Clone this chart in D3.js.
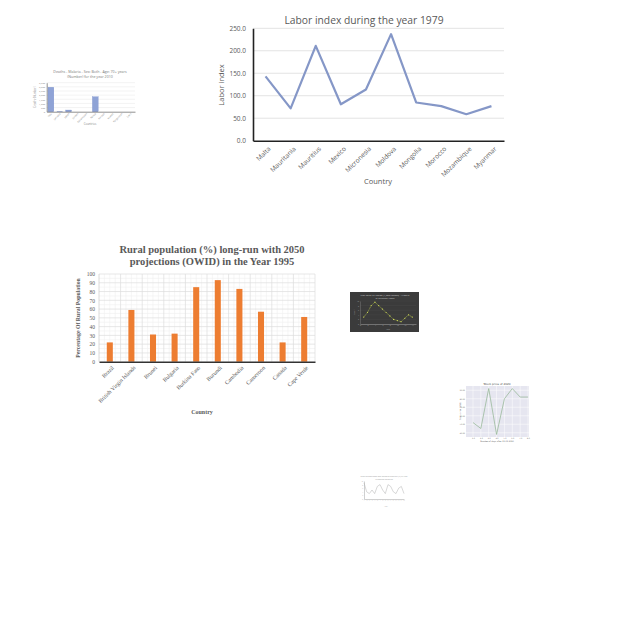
<!DOCTYPE html>
<html><head><meta charset="utf-8">
<script src="https://cdn.jsdelivr.net/npm/d3@7"></script>
<style>html,body{margin:0;padding:0;background:#fff;}svg{display:block;}</style>
</head><body>
<svg id="c" width="640" height="640"></svg>
<script>
// ---------- DATA ----------
const laborCountries = ["Malta","Mauritania","Mauritius","Mexico","Micronesia","Moldova","Mongolia","Morocco","Mozambique","Myanmar"];
const laborValues = [143, 72, 211, 81, 114, 237, 85, 77, 59, 77];
const laborTicks = [0, 50, 100, 150, 200, 250];

const ruralCountries = ["Brazil","British Virgin Islands","Brunei","Bulgaria","Burkina Faso","Burundi","Cambodia","Cameroon","Canada","Cape Verde"];
const ruralValues = [22, 59, 31, 32, 85, 93, 83, 57, 22, 51];
const ruralTicks = [0,10,20,30,40,50,60,70,80,90,100];

const deathsCategories = ["Italy","Jamaica","Japan","Jordan","Kazakhstan","Kenya","Kiribati","Kuwait","Kyrgyzstan","Laos"];
const deathsValues = [2950, 50, 200, 0, 0, 1800, 0, 0, 0, 0];
const deathsTicks = [0,500,1000,1500,2000,2500,3000,3500];

const darkX = [1,2,3,4,5,6,7,8,9,10,11,12,13,14];
const darkValues = [3, 5, 8, 9.5, 8, 6.5, 5, 3.5, 2, 1.5, 1, 2.5, 4, 3];
const darkTicks = [0,2,4,6,8,10];

const stockX = [1,2,3,4,5,6,7,8];
const stockValues = [52, 45, 92, 38, 80, 92, 82, 82];
const stockTicks = [40,50,60,70,80,90];

const tinyX = [1,2,3,4,5,6,7,8,9,10,11,12,13,14,15,16];
const tinyValues = [9, 4, 3, 5, 3, 7, 8, 5, 3, 8, 7, 4, 3, 6, 7, 3];
const tinyTicks = [0,2,4,6,8,10];

const svg = d3.select("#c");

// ---------- LABOR LINE CHART ----------
(function(){
  const g = svg.append("g");
  const x = d3.scaleBand().domain(laborCountries).range([253, 504]);
  const y = d3.scaleLinear().domain([0, 250]).range([140.7, 28.3]);
  const font = "'Open Sans', sans-serif";
  g.append("text").attr("x", 364).attr("y", 24).attr("text-anchor","middle")
    .attr("font-family", font).attr("font-size", 10.3).attr("fill","#595959")
    .text("Labor index during the year 1979");
  g.selectAll("line.grid").data(laborTicks.slice(1)).join("line")
    .attr("x1", 253).attr("x2", 504).attr("y1", d=>y(d)).attr("y2", d=>y(d))
    .attr("stroke", "#e3e3e3").attr("stroke-width", 1);
  const ya = g.append("g").attr("transform","translate(253,0)")
    .call(d3.axisLeft(y).tickValues(laborTicks).tickFormat(d3.format(".1f")).tickSize(0).tickPadding(7));
  ya.select(".domain").attr("stroke","#222").attr("stroke-width",1.6);
  ya.selectAll("text").attr("font-family", font).attr("font-size", 6.5).attr("fill","#595959");
  const xa = g.append("g").attr("transform","translate(0,140.7)")
    .call(d3.axisBottom(x).tickSize(0));
  xa.select(".domain").attr("stroke","#222").attr("stroke-width",1.6);
  xa.selectAll("text").attr("font-family", font).attr("font-size", 6.5).attr("fill","#595959")
    .attr("text-anchor","end").attr("x",0).attr("y",0).attr("dy","0.35em")
    .attr("transform","translate(4,7) rotate(-45)");
  g.append("path").datum(laborValues)
    .attr("fill","none").attr("stroke","#8597c7").attr("stroke-width",2.2).attr("stroke-linejoin","round")
    .attr("d", d3.line().x((d,i)=>x(laborCountries[i]) + x.bandwidth()/2).y(d=>y(d)));
  g.append("text").attr("transform","translate(224,85) rotate(-90)").attr("text-anchor","middle")
    .attr("font-family", font).attr("font-size", 7.5).attr("fill","#595959").text("Labor index");
  g.append("text").attr("x", 378).attr("y", 184).attr("text-anchor","middle")
    .attr("font-family", font).attr("font-size", 7.5).attr("fill","#595959").text("Country");
})();

// ---------- RURAL BAR CHART ----------
(function(){
  const g = svg.append("g");
  const font = "'Liberation Serif', 'Times New Roman', serif";
  const x = d3.scaleBand().domain(ruralCountries).range([99, 315]).paddingInner(0.72).paddingOuter(0.36);
  const xb = d3.scaleBand().domain(ruralCountries).range([99, 315]);
  const y = d3.scaleLinear().domain([0, 100]).range([361.7, 274]);
  g.append("text").attr("x", 212).attr("y", 253).attr("text-anchor","middle")
    .attr("font-family", font).attr("font-weight","bold").attr("font-size", 10.5).attr("fill","#595959")
    .text("Rural population (%) long-run with 2050");
  g.append("text").attr("x", 212).attr("y", 264.5).attr("text-anchor","middle")
    .attr("font-family", font).attr("font-weight","bold").attr("font-size", 10.5).attr("fill","#595959")
    .text("projections (OWID) in the Year 1995");
  const minorY = d3.range(5, 100, 10);
  g.selectAll("line.mh").data(minorY).join("line")
    .attr("x1",99).attr("x2",315).attr("y1",d=>y(d)).attr("y2",d=>y(d)).attr("stroke","#f0f0f0").attr("stroke-width",0.6);
  const minorX = [];
  ruralCountries.forEach(c=>{ for(let k=1;k<4;k++) minorX.push(xb(c)+xb.bandwidth()*k/4); });
  g.selectAll("line.mv").data(minorX).join("line")
    .attr("y1",274).attr("y2",361.7).attr("x1",d=>d).attr("x2",d=>d).attr("stroke","#f0f0f0").attr("stroke-width",0.6);
  g.selectAll("line.gh").data(ruralTicks.slice(1)).join("line")
    .attr("x1",99).attr("x2",315).attr("y1",d=>y(d)).attr("y2",d=>y(d)).attr("stroke","#dcdcdc").attr("stroke-width",0.7);
  g.selectAll("line.gv").data(ruralCountries.slice(1).concat(["__end"])).join("line")
    .attr("y1",274).attr("y2",361.7)
    .attr("x1",d=> d==="__end" ? 315 : xb(d)).attr("x2",d=> d==="__end" ? 315 : xb(d))
    .attr("stroke","#dcdcdc").attr("stroke-width",0.7);
  g.append("line").attr("x1",99).attr("x2",99).attr("y1",274).attr("y2",361.7).attr("stroke","#d0d0d0").attr("stroke-width",0.8);
  const ya = g.append("g").attr("transform","translate(99,0)")
    .call(d3.axisLeft(y).tickValues(ruralTicks).tickSize(0).tickPadding(4));
  ya.select(".domain").remove();
  ya.selectAll("text").attr("font-family", font).attr("font-size", 5.5).attr("fill","#595959");
  g.selectAll("rect.bar").data(ruralValues).join("rect")
    .attr("x",(d,i)=>x(ruralCountries[i])).attr("width",x.bandwidth())
    .attr("y",d=>y(d)).attr("height",d=>y(0)-y(d)).attr("fill","#ed7d31");
  const xa = g.append("g").attr("transform","translate(0,361.7)")
    .call(d3.axisBottom(xb).tickSize(0));
  xa.select(".domain").attr("stroke","#333").attr("stroke-width",1.4);
  xa.selectAll("text").attr("font-family", font).attr("font-size", 5.8).attr("fill","#595959")
    .attr("text-anchor","end").attr("x",0).attr("y",0).attr("dy","0.35em")
    .attr("transform","translate(3,5) rotate(-45)");
  g.append("text").attr("transform","translate(80,318) rotate(-90)").attr("text-anchor","middle")
    .attr("font-family", font).attr("font-weight","bold").attr("font-size", 5.8).attr("fill","#595959")
    .text("Percentage Of Rural Population");
  g.append("text").attr("x", 202).attr("y", 414).attr("text-anchor","middle")
    .attr("font-family", font).attr("font-weight","bold").attr("font-size", 6).attr("fill","#595959").text("Country");
})();

// ---------- DEATHS SMALL BAR CHART ----------
(function(){
  const g = svg.append("g");
  const font = "'Open Sans', sans-serif";
  const x = d3.scaleBand().domain(deathsCategories).range([46.7, 135]).paddingInner(0.35).paddingOuter(0.15);
  const xb = d3.scaleBand().domain(deathsCategories).range([46.7, 135]);
  const y = d3.scaleLinear().domain([0, 3500]).range([111.7, 82.7]);
  g.append("text").attr("x", 90).attr("y", 72.5).attr("text-anchor","middle")
    .attr("font-family", font).attr("font-size", 3.6).attr("fill","#7a7a7a")
    .text("Deaths - Malaria - Sex: Both - Age: 70+ years");
  g.append("text").attr("x", 90).attr("y", 77.5).attr("text-anchor","middle")
    .attr("font-family", font).attr("font-size", 3.6).attr("fill","#7a7a7a")
    .text("(Number) for the year 2010");
  g.selectAll("line.gh").data(deathsTicks.slice(1)).join("line")
    .attr("x1",46.7).attr("x2",135).attr("y1",d=>y(d)).attr("y2",d=>y(d)).attr("stroke","#e6e6e6").attr("stroke-width",0.5);
  const ya = g.append("g").attr("transform","translate(46.7,0)")
    .call(d3.axisLeft(y).tickValues(deathsTicks).tickSize(0).tickPadding(1.5));
  ya.select(".domain").attr("stroke","#444").attr("stroke-width",0.6);
  ya.selectAll("text").attr("font-family", font).attr("font-size", 2.4).attr("fill","#888");
  g.selectAll("rect.bar").data(deathsValues).join("rect")
    .attr("x",(d,i)=>x(deathsCategories[i])).attr("width",x.bandwidth())
    .attr("y",d=>y(d)).attr("height",d=>y(0)-y(d)).attr("fill","#8fa3d6").attr("stroke","#6f86c6").attr("stroke-width",0.3);
  const xa = g.append("g").attr("transform","translate(0,111.7)")
    .call(d3.axisBottom(xb).tickSize(0).tickPadding(1));
  xa.select(".domain").attr("stroke","#444").attr("stroke-width",0.6);
  xa.selectAll("text").attr("font-family", font).attr("font-size", 2.4).attr("fill","#888")
    .attr("text-anchor","end").attr("x",0).attr("y",0).attr("dy","0.5em")
    .attr("transform","translate(0,1.5) rotate(-45)");
  g.append("text").attr("transform","translate(36,97) rotate(-90)").attr("text-anchor","middle")
    .attr("font-family", font).attr("font-size", 2.6).attr("fill","#888").text("Deaths (Number)");
  g.append("text").attr("x", 90).attr("y", 125).attr("text-anchor","middle")
    .attr("font-family", font).attr("font-size", 2.8).attr("fill","#888").text("Countries");
})();

// ---------- DARK LINE CHART ----------
(function(){
  const g = svg.append("g");
  const font = "'Open Sans', sans-serif";
  g.append("rect").attr("x",350).attr("y",292).attr("width",69).attr("height",40).attr("fill","#3b3b3b");
  const x = d3.scaleLinear().domain([0, 15]).range([360, 416]);
  const y = d3.scaleLinear().domain([0, 10]).range([324, 301]);
  g.append("text").attr("x", 385).attr("y", 296).attr("text-anchor","middle")
    .attr("font-family", font).attr("font-size", 2.4).attr("fill","#cfcfcf")
    .text("Fish catch by region (1,000 tonnes) - Atlantic");
  g.append("text").attr("x", 385).attr("y", 299).attr("text-anchor","middle")
    .attr("font-family", font).attr("font-size", 2.4).attr("fill","#cfcfcf").text("in different years");
  g.selectAll("line.gh").data(darkTicks.slice(1)).join("line")
    .attr("x1",360).attr("x2",416).attr("y1",d=>y(d)).attr("y2",d=>y(d)).attr("stroke","#4a4a4a").attr("stroke-width",0.4);
  const ya = g.append("g").attr("transform","translate(360,0)")
    .call(d3.axisLeft(y).tickValues(darkTicks).tickSize(0).tickPadding(1));
  ya.select(".domain").attr("stroke","#888").attr("stroke-width",0.4);
  ya.selectAll("text").attr("font-family", font).attr("font-size", 1.8).attr("fill","#aaa");
  const xa = g.append("g").attr("transform","translate(0,324)")
    .call(d3.axisBottom(x).ticks(8).tickSize(0).tickPadding(1));
  xa.select(".domain").attr("stroke","#aaa").attr("stroke-width",0.5);
  xa.selectAll("text").attr("font-family", font).attr("font-size", 1.8).attr("fill","#aaa");
  g.append("path").datum(darkValues).attr("fill","none").attr("stroke","#b9c94a").attr("stroke-width",0.6)
    .attr("stroke-dasharray","1,0.6")
    .attr("d", d3.line().x((d,i)=>x(darkX[i])).y(d=>y(d)));
  g.selectAll("circle.pt").data(darkValues).join("circle")
    .attr("cx",(d,i)=>x(darkX[i])).attr("cy",d=>y(d)).attr("r",0.6).attr("fill","#d6e05a");
  g.append("text").attr("x", 388).attr("y", 329.5).attr("text-anchor","middle")
    .attr("font-family", font).attr("font-size", 2).attr("fill","#aaa").text("Year");
  g.append("text").attr("transform","translate(355,312) rotate(-90)").attr("text-anchor","middle")
    .attr("font-family", font).attr("font-size", 2).attr("fill","#aaa").text("Catch");
})();

// ---------- STOCK PRICE CHART ----------
(function(){
  const g = svg.append("g");
  const font = "'DejaVu Sans', sans-serif";
  const x = d3.scaleLinear().domain([1, 8]).range([473, 528]);
  const y = d3.scaleLinear().domain([35, 95]).range([437, 386]);
  g.append("rect").attr("x",466).attr("y",386).attr("width",63).attr("height",51).attr("fill","#e6e6f0");
  g.append("text").attr("x", 497).attr("y", 384.5).attr("text-anchor","middle")
    .attr("font-family", font).attr("font-size", 2.8).attr("fill","#444").text("Stock price of 2020");
  g.selectAll("line.gh").data(stockTicks).join("line")
    .attr("x1",466).attr("x2",529).attr("y1",d=>y(d)).attr("y2",d=>y(d)).attr("stroke","#fff").attr("stroke-width",0.5);
  g.selectAll("line.gv").data(stockX).join("line")
    .attr("y1",386).attr("y2",437).attr("x1",d=>x(d)).attr("x2",d=>x(d)).attr("stroke","#fff").attr("stroke-width",0.5);
  const ya = g.append("g").attr("transform","translate(466,0)")
    .call(d3.axisLeft(y).tickValues(stockTicks).tickFormat(d=>d.toFixed(2)).tickSize(0).tickPadding(1));
  ya.select(".domain").remove();
  ya.selectAll("text").attr("font-family", font).attr("font-size", 1.8).attr("fill","#555");
  const xa = g.append("g").attr("transform","translate(0,437)")
    .call(d3.axisBottom(x).tickValues(stockX).tickSize(0).tickPadding(1));
  xa.select(".domain").remove();
  xa.selectAll("text").attr("font-family", font).attr("font-size", 1.8).attr("fill","#555");
  g.append("path").datum(stockValues).attr("fill","none").attr("stroke","#8fb38f").attr("stroke-width",0.7)
    .attr("d", d3.line().x((d,i)=>x(stockX[i])).y(d=>y(d)));
  g.append("text").attr("x", 497).attr("y", 442).attr("text-anchor","middle")
    .attr("font-family", font).attr("font-size", 2).attr("fill","#555").text("Number of days after 01-01-2020");
  g.append("text").attr("transform","translate(461,411) rotate(-90)").attr("text-anchor","middle")
    .attr("font-family", font).attr("font-size", 2).attr("fill","#555").text("Stock price (USD)");
})();

// ---------- TINY LINE CHART ----------
(function(){
  const g = svg.append("g");
  const font = "'Open Sans', sans-serif";
  const x = d3.scaleLinear().domain([1, 16]).range([364, 404]);
  const y = d3.scaleLinear().domain([0, 10]).range([499, 481]);
  g.append("text").attr("x", 384).attr("y", 477).attr("text-anchor","middle")
    .attr("font-family", font).attr("font-size", 1.8).attr("fill","#999")
    .text("Share of population with access to electricity (%) by year");
  g.append("text").attr("x", 384).attr("y", 479.5).attr("text-anchor","middle")
    .attr("font-family", font).attr("font-size", 1.8).attr("fill","#999").text("in different countries");
  const ya = g.append("g").attr("transform","translate(364,0)")
    .call(d3.axisLeft(y).tickValues(tinyTicks).tickSize(0).tickPadding(0.8));
  ya.select(".domain").attr("stroke","#888").attr("stroke-width",0.4);
  ya.selectAll("text").attr("font-family", font).attr("font-size", 1.5).attr("fill","#aaa");
  const xa = g.append("g").attr("transform","translate(0,499)")
    .call(d3.axisBottom(x).tickValues(tinyX).tickSize(0));
  xa.select(".domain").attr("stroke","#888").attr("stroke-width",0.4);
  xa.selectAll("text").attr("font-family", font).attr("font-size", 1.5).attr("fill","#aaa")
    .attr("text-anchor","end").attr("x",0).attr("y",0).attr("dy","0.35em")
    .attr("transform","translate(0,1) rotate(-45)");
  g.append("path").datum(tinyValues).attr("fill","none").attr("stroke","#b0b0b0").attr("stroke-width",0.5)
    .attr("d", d3.line().x((d,i)=>x(tinyX[i])).y(d=>y(d)));
  g.append("text").attr("x", 386).attr("y", 507).attr("text-anchor","middle")
    .attr("font-family", font).attr("font-size", 1.6).attr("fill","#aaa").text("Year");
})();
</script>
</body></html>
